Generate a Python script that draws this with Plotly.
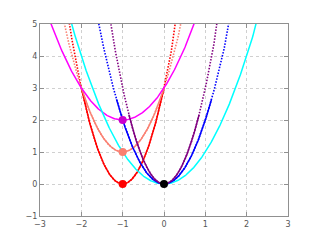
import numpy as np
import plotly.graph_objects as go

# Parabolas y = a*(x-h)^2 + k
names = ["red", "salmon", "magenta", "cyan", "blue", "purple"]
colors = ["#ff0000", "#fa8072", "#ff00ff", "#00ffff", "#0000ff", "#800080"]
a_vals = [3, 2, 1, 1, 2, 3]
h_vals = [-1, -1, -1, 0, 0, 0]
k_vals = [0, 1, 2, 0, 0, 0]
# solid range (x_lo, x_hi); dotted drawn elsewhere
solid_lo = [-2, -2, -3, -3, -1.15, -0.85]
solid_hi = [0, 0, 3, 3, 1.15, 0.85]
dotted = [True, True, False, False, True, True]

# marker points
pt_x = [-1, -1, -1, 0]
pt_y = [0, 1, 2, 0]
pt_c = ["#ff0000", "#fa8072", "#cc00cc", "#000000"]

fig = go.Figure()
xs = np.linspace(-3, 3, 601)

for i in range(len(names)):
    if dotted[i]:
        y = a_vals[i] * (xs - h_vals[i]) ** 2 + k_vals[i]
        fig.add_trace(go.Scatter(x=xs, y=y, mode="lines",
                                 line=dict(color=colors[i], width=1.6, dash="1.5px,1.5px"),
                                 hoverinfo="skip", showlegend=False))
for i in range(len(names)):
    xx = xs[(xs >= solid_lo[i] - 1e-9) & (xs <= solid_hi[i] + 1e-9)]
    y = a_vals[i] * (xx - h_vals[i]) ** 2 + k_vals[i]
    fig.add_trace(go.Scatter(x=xx, y=y, mode="lines",
                             line=dict(color=colors[i], width=1.5),
                             hoverinfo="skip", showlegend=False))

fig.add_trace(go.Scatter(x=pt_x, y=pt_y, mode="markers",
                         marker=dict(color=pt_c, size=8, line=dict(width=0)),
                         showlegend=False))

axis_common = dict(
    showgrid=True, gridcolor="#d0d0d0", griddash="dot", gridwidth=1,
    zeroline=False, showline=True, linecolor="#909090", linewidth=1,
    mirror="allticks", ticks="inside", ticklen=4, tickcolor="#909090",
    tickfont=dict(family="DejaVu Sans", size=8, color="#555555"),
)
fig.update_xaxes(range=[-3, 3], tickvals=[-3, -2, -1, 0, 1, 2, 3], **axis_common)
fig.update_yaxes(range=[-1, 5], tickvals=[-1, 0, 1, 2, 3, 4, 5], **axis_common)

fig.update_layout(
    width=320, height=240,
    margin=dict(l=40, r=32, t=24, b=24),
    paper_bgcolor="white", plot_bgcolor="white",
)

fig.write_html("out.html")
